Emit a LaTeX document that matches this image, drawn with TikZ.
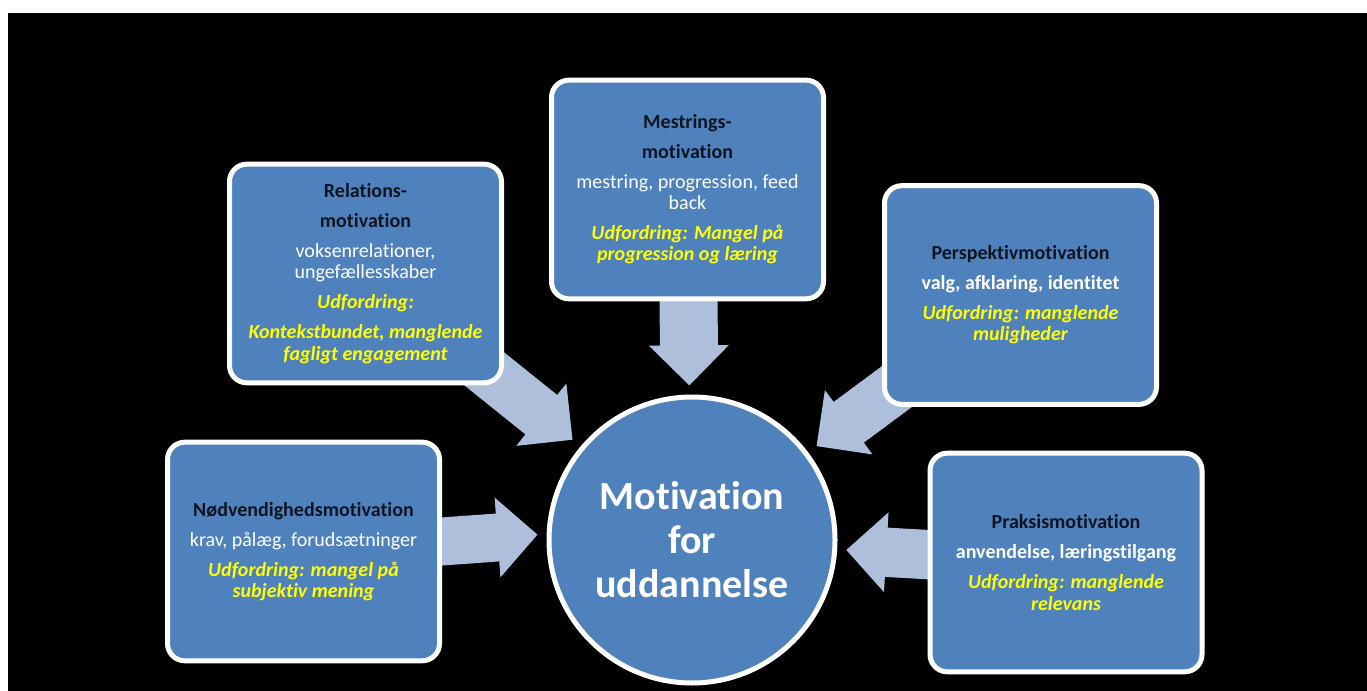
\documentclass[tikz,border=0pt]{standalone}
\usepackage{fontspec}
\setmainfont[Ligatures={NoCommon}]{Carlito}
\usetikzlibrary{calc}
\definecolor{boxblue}{HTML}{4F81BD}
\definecolor{arrowc}{HTML}{AEBFDB}
\definecolor{ttlc}{HTML}{0E1522}
\definecolor{yel}{HTML}{FFFF00}
\pgfdeclarelayer{bg}
\pgfdeclarelayer{arr}
\pgfsetlayers{bg,arr,main}
\newcommand\ttl[1]{{\bfseries\color{ttlc}#1}}
\newcommand\udf[1]{{\bfseries\itshape\color{yel}#1}}
% start, tip, shaft half width, head half width, head length
\newcommand\blockarrow[5]{%
  \coordinate (ab) at ($(#2)!#5!(#1)$);
  \fill[arrowfill] ($(#1)!#3!90:(#2)$) -- ($(ab)!#3!90:(#2)$) -- ($(ab)!#4!90:(#2)$)
    -- (#2) -- ($(ab)!#4!-90:(#2)$) -- ($(ab)!#3!-90:(#2)$) -- ($(#1)!#3!-90:(#2)$) -- cycle;}
\begin{document}
\begin{tikzpicture}[x=0.75pt,y=-0.75pt,
  mbox/.style={rectangle, rounded corners=13pt, draw=white, line width=3.75pt,
    fill=boxblue, minimum width=204pt, minimum height=164pt, align=center,
    text=white, font=\fontsize{15pt}{16pt}\selectfont, inner sep=0pt},
  hub/.style={circle, draw=white, line width=3.75pt, fill=boxblue,
    minimum size=214.5pt, align=center, text=white,
    font=\fontsize{30pt}{33pt}\selectfont\bfseries, inner sep=0pt},
  arrowfill/.style={fill=arrowc}]
\useasboundingbox (0,0) rectangle (1367,691);
\begin{pgfonlayer}{bg}
  \fill[white] (0,0) rectangle (1367,691);
  \fill[black] (8,13) rectangle (1367,691);
\end{pgfonlayer}

\node[hub] (mot) at (692,540) {Motivation\\for\\uddannelse};

\node[mbox] (rel) at (365.5,273.5) {\ttl{Relations-}\\[6.5pt]\ttl{motivation}\\[6.5pt]
  voksenrelationer,\\ungefællesskaber\\[6.5pt]\udf{Udfordring:}\\[6.5pt]
  \udf{Kontekstbundet, manglende}\\\udf{fagligt engagement}};

\node[mbox] (mes) at (687.5,189.5) {\ttl{Mestrings-}\\[6pt]\ttl{motivation}\\[6.5pt]
  mestring, progression, feed\\back\\[6.5pt]\udf{Udfordring: Mangel på}\\\udf{progression og læring}};

\node[mbox] (per) at (1020.5,295) {\ttl{Perspektivmotivation}\\[6.5pt]
  {\bfseries valg, afklaring, identitet}\\[6.5pt]\udf{Udfordring: manglende}\\\udf{muligheder}};

\node[mbox] (pra) at (1066,562.5) {\ttl{Praksismotivation}\\[6.5pt]
  {\bfseries anvendelse, læringstilgang}\\[6.5pt]\udf{Udfordring: manglende}\\\udf{relevans}};

\node[mbox] (nod) at (303.5,551.5) {\ttl{Nødvendighedsmotivation}\\[6.5pt]
  krav, pålæg, forudsætninger\\[6.5pt]\udf{Udfordring: mangel på}\\\udf{subjektiv mening}};

\coordinate (t1) at ($(mot.center)+(140:117pt)$);
\coordinate (t2) at ($(mot.center)+(91:116pt)$);
\coordinate (t3) at ($(mot.center)+(37:117pt)$);
\coordinate (t4) at ($(mot.center)+(178:116pt)$);
\coordinate (t5) at ($(mot.center)+(-3.7:116pt)$);

\begin{pgfonlayer}{arr}
  \blockarrow{rel.center}{t1}{19pt}{30pt}{30pt}
  \blockarrow{mes.center}{t2}{21.75pt}{30pt}{30pt}
  \blockarrow{per.center}{t3}{19pt}{30pt}{30pt}
  \blockarrow{nod.center}{t4}{18pt}{30pt}{30pt}
  \blockarrow{pra.center}{t5}{18.5pt}{30pt}{30pt}
\end{pgfonlayer}
\end{tikzpicture}
\end{document}
